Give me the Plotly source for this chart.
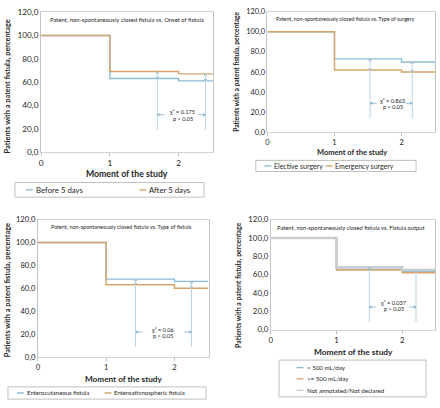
import plotly.graph_objects as go

W, H = 440, 408

# ---------------- data ----------------
moments = [0, 1, 2, 2.5]
x_ticks = [0, 1, 2]
y_ticks = [0, 20, 40, 60, 80, 100, 120]
y_ticktext = ["0,0", "20,0", "40,0", "60,0", "80,0", "100,0", "120,0"]
x_title = "Moment of the study"
y_title = "Patients with a patent fistula, percentage"

p1_title = "Patent, non-spontaneously closed fistula vs. Onset of fistula"
p1_names = ["Before 5 days", "After 5 days"]
p1_before = [100, 63, 61, 61]
p1_after = [100, 69, 67, 67]
p1_chi = "χ² = 0.175"

p2_title = "Patent, non-spontaneously closed fistula vs. Type of surgery"
p2_names = ["Elective surgery", "Emergency surgery"]
p2_elective = [100, 73, 70, 70]
p2_emergency = [100, 62, 60, 60]
p2_chi = "χ² = 0.863"

p3_title = "Patent, non-spontaneously closed fistula vs. Type of fistula"
p3_names = ["Enterocutaneous fistula", "Enteroathmospheric fistula"]
p3_cutaneous = [100, 68, 66, 66]
p3_athmospheric = [100, 63, 60, 60]
p3_chi = "χ² = 0.06"

p4_title = "Patent, non-spontaneously closed fistula vs. Fistula output"
p4_names = ["< 500 mL/day", ">= 500 mL/day", "Not annotated/Not declared"]
p4_low = [100, 66, 63.5, 63.5]
p4_high = [100, 65, 62, 62]
p4_na = [100, 68, 65, 65]
p4_chi = "χ² = 0.037"

p_text = "p > 0.05"

# ---------------- style ----------------
BLUE = "#8dbad3"
ORANGE = "#d7a46b"
GRAY = "#c9cdd0"
ANN = "#b9d4e4"
ARR = "#7fb0cb"
FONT = "Lato"
TXT = "#262626"


def px(x):
    return x / W


def py(y):
    return 1 - y / H


# panel geometry (pixels): plot left, right, top(120), bottom(0), font sizes
panels = [
    dict(l=39.3, r=212, t=7.3, b=150.7, tick=8.2, xt=8.7, yt=7.4, tt=5.9),
    dict(l=266.7, r=435, t=6.7, b=130.7, tick=7.4, xt=7.5, yt=6.6, tt=5.3),
    dict(l=36, r=207.5, t=220, b=360.7, tick=7.6, xt=8.2, yt=7.4, tt=5.5),
    dict(l=270, r=435, t=220, b=332.7, tick=7.8, xt=8.4, yt=6.9, tt=5.8),
]

fig = go.Figure()

series = [
    [(p1_before, BLUE, 1.4), (p1_after, ORANGE, 1.4)],
    [(p2_elective, BLUE, 1.4), (p2_emergency, ORANGE, 1.4)],
    [(p3_cutaneous, BLUE, 1.4), (p3_athmospheric, ORANGE, 1.4)],
    [(p4_low, BLUE, 1.4), (p4_high, ORANGE, 1.4), (p4_na, GRAY, 2.6)],
]
names = [p1_names, p2_names, p3_names, p4_names]

for i, (pan, ser) in enumerate(zip(panels, series)):
    k = "" if i == 0 else str(i + 1)
    for j, (vals, col, w) in enumerate(ser):
        fig.add_trace(go.Scatter(
            x=moments, y=vals, mode="lines", line=dict(color=col, width=w, shape="hv"),
            name=names[i][j], showlegend=False, xaxis="x" + k, yaxis="y" + k,
            hoverinfo="skip"))
    fig.layout["xaxis" + k] = dict(
        domain=[px(pan["l"]), px(pan["r"])], range=[0, 2.5], anchor="y" + k,
        tickvals=x_ticks, ticks="outside", ticklen=3, tickcolor="#bfbfbf",
        showline=True, linecolor="#d4d4d4", linewidth=1, mirror=True,
        showgrid=False, zeroline=False,
        tickfont=dict(family=FONT, size=pan["tick"], color=TXT))
    fig.layout["yaxis" + k] = dict(
        domain=[py(pan["b"]), py(pan["t"])], range=[0, 120], anchor="x" + k,
        tickvals=y_ticks, ticktext=y_ticktext, ticks="",
        showline=True, linecolor="#c4c4c4", linewidth=1, mirror=True,
        showgrid=False, zeroline=False,
        tickfont=dict(family=FONT, size=pan["tick"], color=TXT))

annotations = []
shapes = []

# axis titles (pixel positions)
xt_pos = [(125.7, 173), (351.5, 151), (122, 383.5), (352.8, 355.5)]
yt_pos = [(5.5, 83), (236, 68.5), (5.5, 292), (238, 287)]
for pan, (x, y) in zip(panels, xt_pos):
    annotations.append(dict(xref="paper", yref="paper", x=px(x), y=py(y),
                            text="<b>" + x_title + "</b>", showarrow=False,
                            font=dict(family=FONT, size=pan["xt"], color=TXT),
                            xanchor="center", yanchor="middle"))
for pan, (x, y) in zip(panels, yt_pos):
    annotations.append(dict(xref="paper", yref="paper", x=px(x), y=py(y),
                            text="<b>" + y_title + "</b>", showarrow=False, textangle=-90,
                            font=dict(family=FONT, size=pan["yt"], color=TXT),
                            xanchor="center", yanchor="middle"))

# inner titles
titles = [p1_title, p2_title, p3_title, p4_title]
tt_pos = [(125.3, 15), (345, 14.5), (119.7, 227.5), (350.8, 228)]
for pan, t, (x, y) in zip(panels, titles, tt_pos):
    annotations.append(dict(xref="paper", yref="paper", x=px(x), y=py(y), text=t,
                            showarrow=False, font=dict(family=FONT, size=pan["tt"], color=TXT),
                            xanchor="center", yanchor="middle"))

# statistics annotations
chis = [p1_chi, p2_chi, p3_chi, p4_chi]
stat = [
    dict(xs=[1.69, 2.39], bot=19, up=[69, 67], lo=[63, 61], ay=32, tx=2.06, ty1=35, ty2=29),
    dict(xs=[1.53, 2.16], bot=14, up=[73, 70], lo=[62, 60], ay=29, tx=1.87, ty1=31.5, ty2=25.8),
    dict(xs=[1.43, 2.25], bot=9, up=[68, 66], lo=[63, 60], ay=21.7, tx=1.84, ty1=24.3, ty2=19),
    dict(xs=[1.5, 2.21], bot=8, up=[68, 65], lo=[65, 62], ay=24.5, tx=1.87, ty1=29, ty2=23.2),
]
for i, (st, chi) in enumerate(zip(stat, chis)):
    k = "" if i == 0 else str(i + 1)
    xr, yr = "x" + k, "y" + k
    mx, my, msym = [], [], []
    for xv, u, lo in zip(st["xs"], st["up"], st["lo"]):
        shapes.append(dict(type="line", xref=xr, yref=yr, x0=xv, x1=xv, y0=st["bot"], y1=u,
                           line=dict(color=ANN, width=1)))
        mx += [xv, xv]
        my += [u - 1, lo + 1]
        msym += ["triangle-up", "triangle-down"]
    d = 0.1
    x0, x1 = st["xs"]
    shapes.append(dict(type="line", xref=xr, yref=yr, x0=x0, x1=x0 + d, y0=st["ay"], y1=st["ay"],
                       line=dict(color=ARR, width=0.8)))
    shapes.append(dict(type="line", xref=xr, yref=yr, x0=x1 - d, x1=x1, y0=st["ay"], y1=st["ay"],
                       line=dict(color=ARR, width=0.8)))
    mx += [x0 + 0.02, x1 - 0.02]
    my += [st["ay"], st["ay"]]
    msym += ["triangle-left", "triangle-right"]
    fig.add_trace(go.Scatter(x=mx, y=my, mode="markers", xaxis=xr, yaxis=yr, showlegend=False,
                             hoverinfo="skip",
                             marker=dict(symbol=msym, size=3, color=ARR, line=dict(width=0))))
    annotations.append(dict(xref=xr, yref=yr, x=st["tx"], y=st["ty1"], text=chi, showarrow=False,
                            font=dict(family=FONT, size=5.6, color=TXT), xanchor="center", yanchor="middle"))
    annotations.append(dict(xref=xr, yref=yr, x=st["tx"], y=st["ty2"], text=p_text, showarrow=False,
                            font=dict(family=FONT, size=5.6, color=TXT), xanchor="center", yanchor="middle"))

# manual legends (pixel geometry)
legends = [
    dict(box=(13, 182, 203, 197), size=7.8,
         items=[(24, 189.5, p1_names[0], BLUE), (138, 189.5, p1_names[1], ORANGE)]),
    dict(box=(255, 159.3, 416, 170.7), size=7.0,
         items=[(263.5, 165, p2_names[0], BLUE), (325, 165, p2_names[1], ORANGE)]),
    dict(box=(6, 391.5, 205, 404), size=6.0,
         items=[(15, 397.7, p3_names[0], BLUE), (103, 397.7, p3_names[1], ORANGE)]),
    dict(box=(278.3, 364, 426, 401.7), size=6.2,
         items=[(296, 371.7, p4_names[0], BLUE), (296, 383.3, p4_names[1], ORANGE),
                (296, 395, p4_names[2], GRAY)]),
]
for lg in legends:
    x0, y0, x1, y1 = lg["box"]
    shapes.append(dict(type="rect", xref="paper", yref="paper", x0=px(x0), x1=px(x1),
                       y0=py(y1), y1=py(y0), line=dict(color="#bfbfbf", width=1)))
    for (lx, ly, nm, col) in lg["items"]:
        shapes.append(dict(type="line", xref="paper", yref="paper", x0=px(lx), x1=px(lx + 7),
                           y0=py(ly), y1=py(ly), line=dict(color=col, width=1.4)))
        annotations.append(dict(xref="paper", yref="paper", x=px(lx + 8), y=py(ly), text=nm,
                                showarrow=False, xanchor="left", yanchor="middle",
                                font=dict(family=FONT, size=lg["size"], color=TXT)))

fig.update_layout(
    width=W, height=H, margin=dict(l=0, r=0, t=0, b=0),
    paper_bgcolor="white", plot_bgcolor="white", showlegend=False,
    annotations=annotations, shapes=shapes,
    font=dict(family=FONT, color=TXT),
)

fig.write_html(
    "out.html",
    config={"displayModeBar": False},
    post_script="document.body.style.margin='0';document.body.style.padding='0';"
                "document.body.style.overflow='hidden';",
)
